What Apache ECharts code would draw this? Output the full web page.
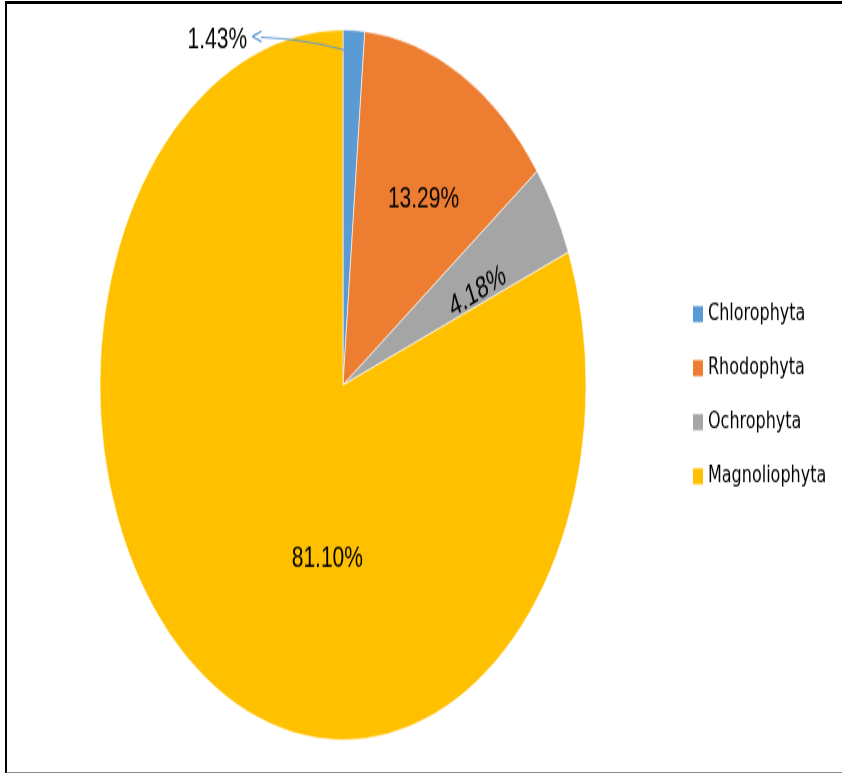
<!DOCTYPE html>
<html>
<head>
<meta charset="utf-8">
<script src="https://cdn.jsdelivr.net/npm/echarts@6/dist/echarts.min.js"></script>
<style>
  html, body { margin: 0; padding: 0; background: #fff; }
  #wrap { position: relative; width: 842px; height: 773px; overflow: hidden; }
  #frame { position: absolute; left: 5px; top: 1px; width: 850px; height: 768px;
    border-top: 3px solid #000; border-left: 2px solid #000; border-bottom: 2px solid #8a8a8a; box-sizing: content-box; }
  #chart { position: absolute; left: 0; top: 0; width: 842px; height: 529px;
    transform: scaleY(1.461); transform-origin: 0 0; }
</style>
</head>
<body>
<div id="wrap">
  <div id="frame"></div>
  <div id="chart"></div>
</div>
<script>
const categories = ['Chlorophyta', 'Rhodophyta', 'Ochrophyta', 'Magnoliophyta'];
const values = [1.43, 13.29, 4.18, 81.10];
const colors = ['#5B9BD5', '#ED7D31', '#A5A5A5', '#FFC000'];

const chart = echarts.init(document.getElementById('chart'), null, { renderer: 'canvas' });

const fmt = p => p.value.toFixed(2) + '%';

const mainData = categories.map((name, i) => ({
  name: name,
  value: values[i],
  itemStyle: { color: colors[i] },
  label: { show: i !== 0 }
}));
mainData[2].label.rotate = 24;

// transparent overlay carrying the outside label of the small slice (drawn on top)
const overlayData = categories.map((name, i) => ({
  name: name,
  value: values[i],
  itemStyle: { color: 'rgba(0,0,0,0)' },
  label: { show: i === 0 },
  labelLine: { show: i === 0 }
}));

chart.setOption({
  animation: false,
  legend: {
    orient: 'vertical',
    left: 688,
    top: 202,
    itemWidth: 10,
    itemHeight: 11,
    itemGap: 21,
    icon: 'rect',
    itemStyle: { borderWidth: 0 },
    data: categories,
    textStyle: { fontFamily: 'DejaVu Sans', fontSize: 16, color: '#000', lineHeight: 16 }
  },
  series: [{
    type: 'pie',
    name: 'main',
    center: [343, 263.5],
    radius: [0, 243],
    startAngle: 90,
    clockwise: true,
    avoidLabelOverlap: false,
    itemStyle: { borderColor: '#fff', borderWidth: 0.6 },
    label: {
      position: 'inside',
      fontFamily: 'Liberation Sans, Arial',
      fontSize: 21,
      color: '#000',
      formatter: fmt
    },
    labelLine: { show: false },
    labelLayout: function (p) {
      if (p.dataIndex === 1) return { dx: 20, dy: -18 };
      if (p.dataIndex === 2) return { dx: 25, dy: 8.5 };
      if (p.dataIndex === 3) return { dx: 54, dy: 16 };
      return {};
    },
    data: mainData
  }, {
    type: 'pie',
    name: 'overlay',
    z: 5,
    silent: true,
    legendHoverLink: false,
    center: [343, 263.5],
    radius: [0, 243],
    startAngle: 90,
    clockwise: true,
    avoidLabelOverlap: false,
    label: {
      position: 'outside',
      formatter: p => '{t|' + fmt(p) + '} {a|<}',
      rich: {
        t: { fontFamily: 'Liberation Sans, Arial', fontSize: 21, color: '#000' },
        a: { fontFamily: 'DejaVu Sans', fontSize: 15, color: '#5B9BD5', padding: [0, 0, 2, 0] }
      }
    },
    labelLine: { smooth: 0.4, lineStyle: { color: '#5B9BD5', width: 1 } },
    labelLayout: function (p) {
      if (p.dataIndex !== 0) return {};
      const r = p.rect;
      return {
        x: r.x - 80,
        y: r.y + 7,
        align: 'right',
        verticalAlign: 'middle',
        labelLinePoints: [[r.x + 3, r.y + 14], [r.x - 38, r.y + 7], [r.x - 82, r.y + 5]]
      };
    },
    data: overlayData
  }]
});
</script>
</body>
</html>
